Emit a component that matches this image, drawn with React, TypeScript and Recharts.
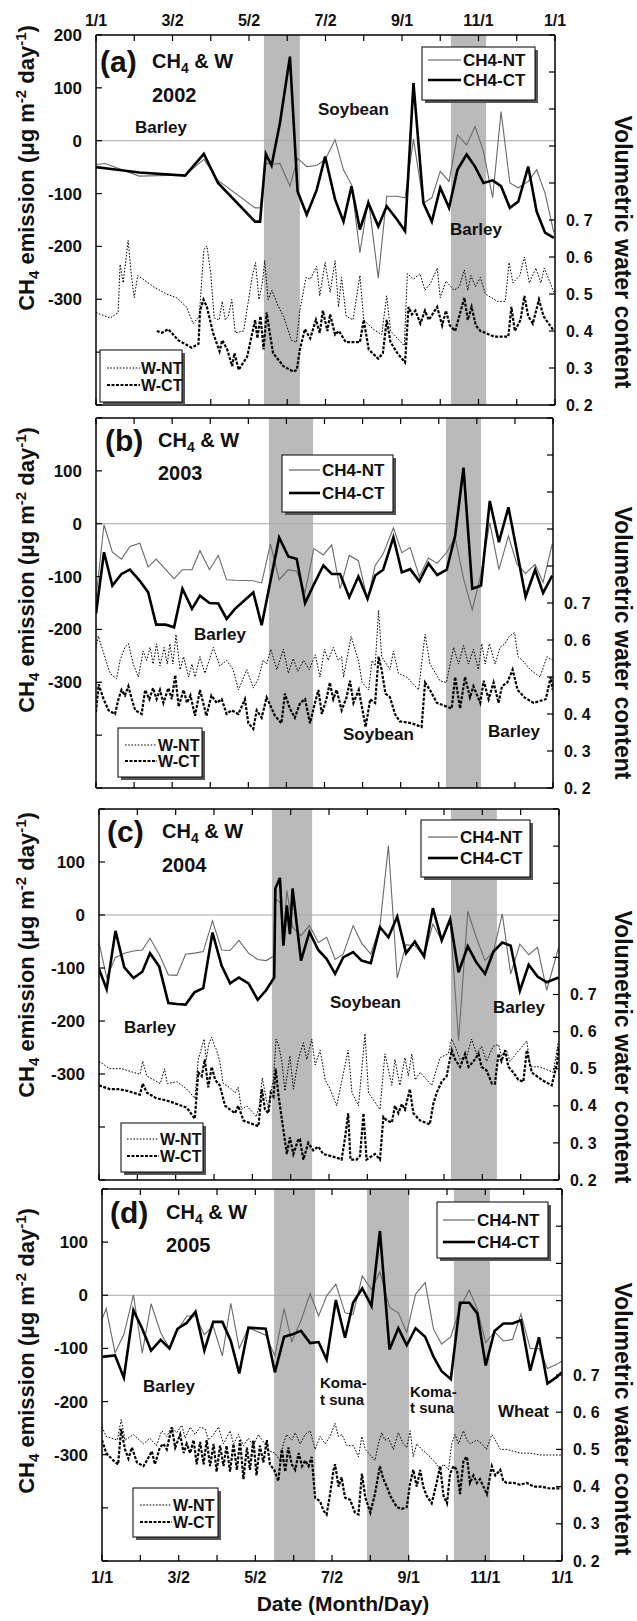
import React from 'react';
import { ComposedChart, Line, XAxis, YAxis, ReferenceArea, ReferenceLine } from 'recharts';

const FONT = '"Liberation Sans", Arial, Helvetica, sans-serif';

// ---- axis ticks ----
const xTickValues = [0, 1, 2, 3, 4, 5, 6, 7, 8, 9, 10, 11, 12];
const xTickLabels = ['1/1', '', '3/2', '', '5/2', '', '7/2', '', '9/1', '', '11/1', '', '1/1'];
const leftTicks = [-500, -400, -300, -200, -100, 0, 100, 200];
const rightTicks = [0.2, 0.3, 0.4, 0.5, 0.6, 0.7, 0.8, 0.9, 1.0, 1.1, 1.2];

// ---- 2002 (a) ----
const datesA = [0, 0.24, 1.13, 2.33, 2.82, 3.19, 4.16, 4.29, 4.44, 4.59, 4.81, 5.07, 5.27, 5.51, 5.77, 5.99, 6.25, 6.47, 6.68, 6.9, 7.12, 7.38, 7.6, 7.86, 8.08, 8.3, 8.56, 8.78, 9.0, 9.23, 9.45, 9.69, 9.91, 10.13, 10.37, 10.59, 10.82, 11.04, 11.3, 11.52, 11.74, 11.97];
const ch4CtA = [-50, -52, -60, -66, -25, -80, -153, -153, -25, -47, 34, 159, -96, -140, -93, -30, -111, -153, -86, -168, -118, -162, -124, -148, -171, 109, -118, -153, -89, -127, -55, -26, -49, -80, -75, -86, -127, -115, -49, -134, -174, -184];
const ch4NtA = [-45, -43, -67, -65, -35, -75, -127, -127, -42, -45, -43, -86, -33, -49, -47, -36, 2, -55, -83, -212, -110, -260, -105, -105, -108, 3, -118, -108, -58, -77, 11, -8, 27, -20, -108, 55, -80, -89, -77, -55, -99, -174];
const wNtA = [[0,0.45],[0.37,0.435],[0.58,0.45],[0.63,0.58],[0.71,0.53],[0.84,0.645],[0.92,0.555],[1.0,0.49],[1.09,0.55],[1.5,0.52],[1.84,0.50],[2.1,0.49],[2.37,0.465],[2.54,0.42],[2.7,0.44],[2.82,0.62],[2.9,0.63],[3.0,0.555],[3.09,0.435],[3.22,0.43],[3.3,0.48],[3.38,0.43],[3.46,0.44],[3.55,0.485],[3.64,0.395],[3.86,0.4],[4.08,0.545],[4.17,0.585],[4.26,0.485],[4.35,0.53],[4.41,0.59],[4.5,0.485],[4.6,0.51],[4.75,0.47],[4.9,0.44],[5.11,0.375],[5.24,0.37],[5.33,0.455],[5.49,0.545],[5.6,0.54],[5.77,0.575],[5.85,0.495],[5.99,0.585],[6.12,0.505],[6.25,0.59],[6.34,0.465],[6.42,0.545],[6.54,0.44],[6.72,0.43],[6.9,0.55],[7.0,0.43],[7.25,0.405],[7.47,0.39],[7.6,0.495],[7.7,0.40],[8.06,0.36],[8.14,0.555],[8.3,0.54],[8.47,0.555],[8.6,0.51],[8.75,0.53],[8.92,0.57],[9.0,0.49],[9.15,0.535],[9.36,0.51],[9.5,0.52],[9.63,0.565],[9.72,0.51],[9.8,0.55],[9.92,0.52],[10.05,0.545],[10.18,0.5],[10.5,0.48],[10.7,0.48],[10.8,0.585],[10.9,0.53],[11.08,0.55],[11.2,0.6],[11.33,0.53],[11.5,0.57],[11.63,0.53],[11.72,0.57],[11.97,0.505]];
const wCtA = [[1.59,0.40],[1.72,0.395],[1.89,0.405],[2.15,0.375],[2.5,0.355],[2.68,0.365],[2.72,0.455],[2.81,0.485],[2.9,0.465],[3.06,0.395],[3.23,0.345],[3.3,0.375],[3.43,0.35],[3.56,0.305],[3.62,0.34],[3.73,0.295],[3.95,0.33],[4.16,0.43],[4.22,0.38],[4.3,0.44],[4.38,0.35],[4.46,0.45],[4.55,0.39],[4.63,0.34],[4.9,0.305],[5.16,0.29],[5.25,0.295],[5.33,0.35],[5.46,0.405],[5.6,0.38],[5.75,0.43],[5.85,0.395],[5.93,0.455],[6.05,0.4],[6.12,0.445],[6.25,0.39],[6.35,0.4],[6.53,0.37],[6.7,0.37],[6.9,0.37],[7.0,0.43],[7.13,0.35],[7.38,0.325],[7.5,0.34],[7.6,0.43],[7.7,0.37],[7.88,0.34],[8.08,0.315],[8.17,0.465],[8.26,0.445],[8.35,0.455],[8.48,0.42],[8.6,0.455],[8.7,0.43],[8.92,0.465],[9.05,0.415],[9.15,0.455],[9.25,0.415],[9.39,0.40],[9.63,0.49],[9.72,0.43],[9.82,0.465],[9.93,0.415],[10.05,0.40],[10.18,0.395],[10.4,0.385],[10.78,0.385],[10.86,0.465],[10.95,0.40],[11.1,0.43],[11.2,0.495],[11.3,0.44],[11.42,0.42],[11.58,0.485],[11.7,0.44],[11.97,0.40]];
const shadesA = [[4.39, 5.33], [9.28, 10.2]];

// ---- 2003 (b) ----
const datesB = [0, 0.21, 0.43, 0.67, 0.89, 1.15, 1.37, 1.58, 1.83, 2.05, 2.27, 2.52, 2.73, 2.98, 3.21, 3.43, 3.65, 4.13, 4.35, 4.58, 4.81, 5.05, 5.27, 5.49, 5.72, 5.97, 6.19, 6.41, 6.65, 6.89, 7.13, 7.33, 7.54, 7.81, 8.03, 8.25, 8.49, 8.73, 8.96, 9.21, 9.43, 9.65, 9.88, 10.11, 10.34, 10.58, 10.83, 11.05, 11.28, 11.53, 11.74, 11.98];
const ch4CtB = [-170, -54, -117, -95, -87, -108, -130, -191, -191, -196, -123, -161, -136, -150, -151, -180, -161, -130, -192, -109, -26, -62, -67, -150, -115, -79, -95, -95, -139, -100, -142, -98, -87, -26, -92, -86, -109, -75, -97, -87, -23, 106, -123, -117, 43, -35, 31, -51, -138, -87, -131, -98];
const ch4NtB = [-140, -2, -54, -67, -43, -37, -82, -67, -87, -104, -87, -87, -51, -87, -60, -106, -107, -108, -112, -38, -106, -87, -90, -130, -47, -59, -40, -123, -60, -70, -144, -79, -57, -8, -55, -45, -100, -65, -75, -54, -26, -104, -163, -95, 2, -87, -23, -76, -94, -77, -111, -38];
const wNtB = [[0,0.58],[0.06,0.61],[0.37,0.51],[0.54,0.495],[0.63,0.545],[0.76,0.58],[0.85,0.59],[0.98,0.535],[1.11,0.5],[1.24,0.57],[1.33,0.545],[1.42,0.58],[1.5,0.535],[1.59,0.59],[1.68,0.53],[1.79,0.58],[1.87,0.535],[1.94,0.59],[2.02,0.535],[2.1,0.615],[2.21,0.52],[2.3,0.555],[2.43,0.5],[2.52,0.535],[2.6,0.5],[2.73,0.555],[2.86,0.51],[3.08,0.58],[3.25,0.53],[3.43,0.545],[3.6,0.52],[3.74,0.465],[3.96,0.52],[4.13,0.47],[4.26,0.495],[4.39,0.545],[4.48,0.535],[4.59,0.575],[4.75,0.52],[4.92,0.575],[5.05,0.51],[5.18,0.55],[5.3,0.515],[5.45,0.545],[5.6,0.52],[5.76,0.56],[5.88,0.50],[6.0,0.575],[6.1,0.545],[6.23,0.58],[6.36,0.545],[6.45,0.555],[6.5,0.5],[6.7,0.61],[6.8,0.575],[6.9,0.54],[6.99,0.485],[7.16,0.465],[7.25,0.545],[7.33,0.53],[7.42,0.68],[7.5,0.555],[7.72,0.52],[7.81,0.57],[7.94,0.51],[8.16,0.5],[8.47,0.465],[8.64,0.615],[8.77,0.535],[9.03,0.49],[9.2,0.485],[9.39,0.58],[9.52,0.535],[9.65,0.585],[9.78,0.535],[9.91,0.575],[10.04,0.52],[10.13,0.59],[10.22,0.535],[10.33,0.59],[10.48,0.535],[10.61,0.58],[10.74,0.59],[10.85,0.61],[10.99,0.62],[11.08,0.555],[11.2,0.545],[11.4,0.52],[11.66,0.5],[11.84,0.555],[11.99,0.545]];
const wCtB = [[0,0.405],[0.07,0.48],[0.2,0.44],[0.33,0.41],[0.5,0.40],[0.59,0.44],[0.67,0.465],[0.76,0.45],[0.85,0.475],[0.94,0.44],[1.03,0.41],[1.2,0.40],[1.29,0.465],[1.4,0.44],[1.5,0.47],[1.59,0.44],[1.68,0.465],[1.77,0.43],[1.9,0.47],[1.99,0.44],[2.08,0.505],[2.17,0.42],[2.3,0.465],[2.39,0.43],[2.48,0.45],[2.6,0.395],[2.73,0.465],[2.9,0.395],[3.03,0.45],[3.17,0.43],[3.3,0.44],[3.43,0.40],[3.56,0.41],[3.74,0.40],[3.91,0.44],[4.0,0.375],[4.13,0.36],[4.22,0.41],[4.35,0.39],[4.48,0.445],[4.59,0.42],[4.7,0.395],[4.87,0.375],[4.96,0.455],[5.09,0.415],[5.22,0.39],[5.36,0.43],[5.49,0.44],[5.62,0.375],[5.75,0.43],[5.84,0.465],[5.93,0.40],[6.05,0.44],[6.14,0.485],[6.23,0.44],[6.32,0.465],[6.45,0.41],[6.58,0.445],[6.67,0.49],[6.76,0.43],[6.9,0.465],[7.08,0.365],[7.2,0.44],[7.33,0.43],[7.42,0.555],[7.5,0.52],[7.6,0.455],[7.72,0.445],[7.85,0.40],[7.98,0.38],[8.29,0.375],[8.55,0.365],[8.64,0.485],[8.77,0.465],[8.95,0.43],[9.21,0.42],[9.34,0.415],[9.43,0.50],[9.56,0.415],[9.69,0.50],[9.82,0.445],[9.91,0.475],[10.09,0.43],[10.18,0.49],[10.31,0.44],[10.44,0.485],[10.57,0.43],[10.66,0.475],[10.8,0.485],[10.94,0.52],[11.07,0.465],[11.25,0.445],[11.49,0.43],[11.81,0.44],[11.94,0.50],[11.99,0.465]];
const shadesB = [[4.54, 5.7], [9.19, 10.11]];

// ---- 2004 (c) ----
const datesC = [0, 0.2, 0.43, 0.66, 0.9, 1.13, 1.33, 1.57, 1.81, 2.03, 2.26, 2.49, 2.72, 2.96, 3.2, 3.42, 3.65, 3.9, 4.14, 4.36, 4.57, 4.6, 4.72, 4.81, 4.9, 4.98, 5.05, 5.27, 5.49, 5.72, 5.94, 6.16, 6.37, 6.63, 6.85, 7.09, 7.33, 7.55, 7.78, 8.01, 8.24, 8.48, 8.71, 8.94, 9.16, 9.38, 9.62, 9.84, 10.07, 10.29, 10.52, 10.74, 10.98, 11.21, 11.44, 11.68, 11.99];
const ch4CtC = [-102, -140, -30, -99, -119, -107, -72, -97, -166, -168, -169, -146, -138, -33, -96, -129, -118, -129, -160, -142, -118, 50, 70, -58, 18, -36, 50, -86, -32, -66, -83, -111, -80, -70, -86, -91, -23, -42, -3, -72, -50, -78, 13, -48, -8, -108, -59, -89, -111, -69, -52, -58, -143, -94, -116, -127, -118];
const ch4NtC = [-52, -118, -80, -72, -68, -66, -44, -74, -113, -114, -74, -72, -69, -11, -66, -67, -48, -72, -84, -86, -77, 30, 24, -42, 46, 10, -23, -39, -20, -52, -42, -84, -74, -20, -53, -74, -20, 131, -119, -56, -58, -78, -17, -48, -8, -237, 7, -42, -86, -69, 2, -111, -55, -75, -61, -142, -61];
const wNtC = [[0,0.52],[0.28,0.50],[0.59,0.50],[0.9,0.49],[1.07,0.485],[1.14,0.52],[1.25,0.48],[1.6,0.46],[1.71,0.50],[1.78,0.46],[2.03,0.465],[2.29,0.445],[2.5,0.42],[2.59,0.525],[2.66,0.55],[2.74,0.58],[2.8,0.525],[2.86,0.565],[2.94,0.585],[3.0,0.565],[3.07,0.55],[3.15,0.52],[3.24,0.46],[3.4,0.45],[3.55,0.435],[3.63,0.45],[3.72,0.39],[3.85,0.40],[4.03,0.38],[4.1,0.37],[4.18,0.40],[4.26,0.475],[4.33,0.435],[4.42,0.39],[4.48,0.435],[4.55,0.47],[4.62,0.58],[4.68,0.565],[4.77,0.52],[4.85,0.44],[4.98,0.535],[5.07,0.445],[5.2,0.525],[5.33,0.57],[5.42,0.525],[5.55,0.58],[5.64,0.51],[5.77,0.55],[5.9,0.47],[6.03,0.445],[6.2,0.40],[6.5,0.55],[6.6,0.435],[6.77,0.40],[6.94,0.595],[7.03,0.435],[7.33,0.39],[7.46,0.54],[7.64,0.455],[7.72,0.525],[7.85,0.455],[7.98,0.53],[8.07,0.48],[8.16,0.54],[8.25,0.47],[8.38,0.49],[8.68,0.455],[8.81,0.50],[8.9,0.53],[9.11,0.54],[9.2,0.58],[9.29,0.56],[9.42,0.525],[9.6,0.535],[9.72,0.58],[9.85,0.54],[9.98,0.56],[10.11,0.52],[10.28,0.56],[10.42,0.565],[10.5,0.535],[10.63,0.55],[10.72,0.52],[11.16,0.575],[11.25,0.505],[11.5,0.505],[11.85,0.49],[11.98,0.57]];
const wCtC = [[0,0.455],[0.28,0.445],[0.5,0.445],[0.76,0.44],[0.9,0.435],[1.07,0.43],[1.14,0.46],[1.25,0.435],[1.5,0.42],[1.75,0.415],[2.03,0.405],[2.29,0.395],[2.5,0.365],[2.59,0.49],[2.68,0.48],[2.76,0.525],[2.85,0.45],[2.94,0.505],[3.03,0.47],[3.15,0.455],[3.29,0.40],[3.42,0.39],[3.55,0.38],[3.63,0.40],[3.77,0.36],[4.03,0.35],[4.16,0.345],[4.25,0.445],[4.33,0.39],[4.42,0.38],[4.48,0.435],[4.55,0.425],[4.61,0.50],[4.68,0.43],[4.81,0.335],[4.9,0.27],[4.98,0.315],[5.07,0.27],[5.2,0.31],[5.24,0.31],[5.33,0.255],[5.46,0.3],[5.59,0.28],[5.72,0.29],[5.85,0.27],[6.03,0.265],[6.2,0.26],[6.33,0.255],[6.42,0.315],[6.5,0.38],[6.56,0.255],[6.72,0.255],[6.81,0.265],[6.9,0.38],[6.98,0.255],[7.2,0.27],[7.33,0.255],[7.42,0.37],[7.51,0.36],[7.64,0.355],[7.72,0.40],[7.81,0.38],[7.9,0.405],[7.98,0.39],[8.11,0.445],[8.2,0.38],[8.38,0.36],[8.63,0.35],[8.72,0.405],[8.81,0.435],[8.94,0.465],[9.07,0.48],[9.2,0.55],[9.29,0.525],[9.42,0.505],[9.55,0.54],[9.64,0.505],[9.77,0.52],[9.9,0.54],[9.98,0.505],[10.11,0.495],[10.25,0.46],[10.33,0.46],[10.42,0.54],[10.5,0.52],[10.59,0.55],[10.68,0.505],[10.81,0.49],[10.94,0.47],[11.07,0.465],[11.16,0.55],[11.29,0.49],[11.55,0.47],[11.81,0.455],[11.95,0.515],[11.99,0.56]];
const shadesC = [[4.51, 5.56], [9.18, 10.38]];

// ---- 2005 (d) ----
const datesD = [0, 0.11, 0.34, 0.57, 0.82, 1.05, 1.28, 1.53, 1.76, 1.97, 2.21, 2.44, 2.67, 2.9, 3.14, 3.36, 3.58, 3.82, 4.27, 4.51, 4.75, 4.95, 5.19, 5.43, 5.65, 5.86, 6.1, 6.34, 6.55, 6.79, 7.03, 7.25, 7.5, 7.73, 7.95, 8.18, 8.43, 8.65, 8.86, 9.1, 9.34, 9.58, 9.79, 10.01, 10.24, 10.47, 10.71, 10.93, 11.17, 11.4, 11.62, 11.86, 11.99];
const ch4CtD = [-116, -115, -113, -155, -28, -63, -104, -84, -100, -63, -52, -31, -104, -50, -50, -86, -147, -61, -63, -145, -78, -74, -67, -90, -88, -121, -9, -80, -14, 13, -20, 121, -102, -62, -94, -62, -78, -116, -143, -158, -14, -14, -34, -132, -67, -53, -53, -47, -142, -79, -166, -154, -145];
const ch4NtD = [-45, -25, -108, -74, 1, -109, -16, -70, -100, -66, -39, -39, -74, -58, -114, -15, -100, -61, -75, -114, -25, -87, -48, 3, -39, -1, 21, -33, -36, 36, 11, 44, -23, -33, -70, 2, 24, -64, -92, -78, -23, 10, -26, -89, -69, -86, -83, -35, -100, -100, -138, -130, -124];
const wNtD = [[0,0.56],[0.11,0.535],[0.4,0.525],[0.5,0.58],[0.6,0.525],[0.82,0.54],[1.08,0.515],[1.25,0.53],[1.42,0.51],[1.56,0.55],[1.69,0.535],[1.82,0.56],[1.95,0.545],[2.08,0.565],[2.17,0.53],[2.3,0.56],[2.43,0.54],[2.56,0.56],[2.69,0.555],[2.78,0.525],[2.91,0.54],[3.04,0.56],[3.17,0.515],[3.34,0.55],[3.43,0.515],[3.56,0.54],[3.69,0.51],[3.82,0.53],[3.95,0.51],[4.08,0.54],[4.21,0.52],[4.38,0.495],[4.51,0.49],[4.64,0.47],[4.73,0.515],[4.82,0.54],[4.95,0.525],[5.04,0.545],[5.17,0.515],[5.3,0.54],[5.43,0.55],[5.56,0.50],[5.69,0.535],[5.82,0.515],[5.95,0.535],[6.08,0.57],[6.17,0.535],[6.26,0.54],[6.39,0.51],[6.56,0.51],[6.69,0.48],[6.78,0.535],[6.87,0.50],[7.12,0.47],[7.21,0.515],[7.3,0.545],[7.38,0.525],[7.47,0.53],[7.6,0.50],[7.73,0.545],[7.86,0.515],[7.95,0.505],[8.04,0.55],[8.12,0.48],[8.21,0.515],[8.34,0.50],[8.56,0.48],[8.73,0.46],[8.82,0.445],[8.91,0.46],[9.04,0.445],[9.12,0.515],[9.21,0.54],[9.3,0.515],[9.43,0.55],[9.52,0.525],[9.6,0.515],[9.78,0.525],[9.91,0.515],[10.03,0.50],[10.17,0.54],[10.26,0.525],[10.39,0.50],[10.56,0.50],[10.74,0.495],[10.91,0.49],[11.17,0.49],[11.43,0.485],[11.69,0.485],[11.99,0.485]];
const wCtD = [[0,0.525],[0.11,0.49],[0.3,0.47],[0.42,0.46],[0.5,0.555],[0.6,0.5],[0.69,0.475],[0.78,0.505],[0.91,0.465],[1.08,0.455],[1.17,0.47],[1.3,0.495],[1.38,0.46],[1.51,0.505],[1.6,0.515],[1.69,0.5],[1.82,0.56],[1.91,0.505],[2.04,0.54],[2.13,0.49],[2.21,0.515],[2.3,0.49],[2.39,0.525],[2.47,0.46],[2.56,0.52],[2.65,0.46],[2.73,0.525],[2.82,0.455],[2.91,0.515],[2.99,0.44],[3.08,0.51],[3.17,0.455],[3.25,0.51],[3.34,0.44],[3.43,0.515],[3.52,0.445],[3.6,0.525],[3.69,0.42],[3.78,0.505],[3.86,0.445],[3.95,0.525],[4.03,0.43],[4.12,0.51],[4.21,0.465],[4.3,0.525],[4.38,0.46],[4.49,0.445],[4.6,0.415],[4.69,0.5],[4.78,0.44],[4.86,0.505],[4.95,0.46],[5.04,0.445],[5.13,0.49],[5.22,0.455],[5.3,0.47],[5.39,0.455],[5.47,0.48],[5.56,0.37],[5.69,0.36],[5.78,0.335],[5.86,0.325],[5.95,0.38],[6.04,0.445],[6.08,0.46],[6.17,0.4],[6.25,0.425],[6.34,0.37],[6.47,0.365],[6.6,0.33],[6.69,0.325],[6.78,0.435],[6.87,0.37],[7.0,0.33],[7.12,0.38],[7.25,0.455],[7.34,0.42],[7.43,0.40],[7.52,0.375],[7.69,0.345],[7.82,0.34],[7.95,0.345],[8.04,0.41],[8.12,0.445],[8.21,0.4],[8.3,0.445],[8.38,0.40],[8.47,0.375],[8.6,0.355],[8.73,0.41],[8.82,0.455],[8.91,0.375],[9.0,0.355],[9.08,0.435],[9.17,0.455],[9.26,0.445],[9.34,0.38],[9.43,0.47],[9.52,0.48],[9.6,0.41],[9.69,0.43],[9.78,0.41],[9.86,0.42],[9.95,0.40],[10.04,0.38],[10.17,0.455],[10.26,0.43],[10.39,0.445],[10.47,0.415],[10.56,0.41],[10.74,0.41],[10.91,0.405],[11.08,0.41],[11.26,0.40],[11.43,0.40],[11.69,0.395],[11.99,0.395]];
const shadesD = [[4.49, 5.56], [6.91, 8.01], [9.18, 10.12]];

// ---- helpers ----
const zip = (dates, vals) => dates.map((m, i) => ({ m, v: vals[i] }));
const pairs = (arr) => arr.map(([m, v]) => ({ m, v }));

const AX = 40;
const XH = 22;
const MB = 16;
const TXT = '#111';

function makeXTick(pos, show) {
  return (p) => {
    const { x, y, payload } = p;
    const lab = xTickLabels[Math.round(payload.value)] || '';
    const dir = pos === 'top' ? 1 : -1;
    return (
      <g>
        <line x1={x} y1={y} x2={x} y2={y + dir * 6} stroke="#000" strokeWidth={1.2} />
        {show && lab ? (
          <text x={x} y={pos === 'top' ? y - 9 : y + 22} textAnchor="middle" fontFamily={FONT} fontWeight="bold" fontSize={16} fill={TXT}>{lab}</text>
        ) : null}
      </g>
    );
  };
}

function makeLeftTick(maxLabel) {
  return (p) => {
    const { x, y, payload } = p;
    const v = payload.value;
    const show = v <= maxLabel && v >= -300;
    return (
      <g>
        <line x1={x} y1={y} x2={x + 6} y2={y} stroke="#000" strokeWidth={1.2} />
        {show ? (
          <text x={x - 14} y={y} dy="0.35em" textAnchor="end" fontFamily={FONT} fontWeight="bold" fontSize={17} fill={TXT}>{v}</text>
        ) : null}
      </g>
    );
  };
}

function rightTick(p) {
  const { x, y, payload } = p;
  const v = payload.value;
  const show = v < 0.75;
  const s = v.toFixed(1).replace('.', '. ');
  return (
    <g>
      <line x1={x} y1={y} x2={x - 6} y2={y} stroke="#000" strokeWidth={1.2} />
      {show ? (
        <text x={x + 11} y={y} dy="0.35em" textAnchor="start" fontFamily={FONT} fontWeight="bold" fontSize={16} fill={TXT}>{s}</text>
      ) : null}
    </g>
  );
}

function Panel({ box, dates, nt, ct, wnt, wct, shades, topLabels, bottomLabels, maxLeft }) {
  const { l, r, t, b } = box;
  const height = b - t + 2 * XH + MB;
  const ntPts = zip(dates, nt);
  const ctPts = zip(dates, ct);
  const wntPts = pairs(wnt);
  const wctPts = pairs(wct);
  const axisLine = { stroke: '#000', strokeWidth: 1.5 };
  return (
    <div style={{ position: 'absolute', left: 0, top: t - XH }}>
      <ComposedChart width={637} height={height} margin={{ top: 0, bottom: MB, left: l - AX, right: 637 - r - AX }}>
        <XAxis xAxisId="t" orientation="top" type="number" dataKey="m" domain={[0, 12]} ticks={xTickValues} interval={0} height={XH} tickSize={0} tickMargin={0} axisLine={axisLine} tickLine={false} tick={makeXTick('top', topLabels)} allowDataOverflow />
        <XAxis xAxisId="b" orientation="bottom" type="number" dataKey="m" domain={[0, 12]} ticks={xTickValues} interval={0} height={XH} tickSize={0} tickMargin={0} axisLine={axisLine} tickLine={false} tick={makeXTick('bottom', bottomLabels)} allowDataOverflow />
        <YAxis yAxisId="left" orientation="left" type="number" domain={[-500, 200]} ticks={leftTicks} interval={0} width={AX} tickSize={0} tickMargin={0} axisLine={axisLine} tickLine={false} tick={makeLeftTick(maxLeft)} allowDataOverflow />
        <YAxis yAxisId="right" orientation="right" type="number" domain={[0.2, 1.2]} ticks={rightTicks} interval={0} width={AX} tickSize={0} tickMargin={0} axisLine={axisLine} tickLine={false} tick={rightTick} allowDataOverflow />
        {shades.map(([x1, x2], i) => (
          <ReferenceArea key={'s' + i} xAxisId="b" yAxisId="left" x1={x1} x2={x2} y1={-500} y2={200} fill="#bababa" fillOpacity={1} stroke="none" />
        ))}
        <ReferenceLine xAxisId="b" yAxisId="left" y={0} stroke="#a8a8a8" strokeWidth={1} />
        <Line xAxisId="b" yAxisId="right" data={wntPts} dataKey="v" type="linear" stroke="#000" strokeWidth={1} strokeDasharray="1.6 1.6" dot={false} isAnimationActive={false} />
        <Line xAxisId="b" yAxisId="right" data={wctPts} dataKey="v" type="linear" stroke="#000" strokeWidth={2.2} strokeDasharray="3 1.5" dot={false} isAnimationActive={false} />
        <Line xAxisId="b" yAxisId="left" data={ntPts} dataKey="v" type="linear" stroke="#6a6a6a" strokeWidth={1.1} dot={false} isAnimationActive={false} />
        <Line xAxisId="b" yAxisId="left" data={ctPts} dataKey="v" type="linear" stroke="#000" strokeWidth={2.6} dot={false} isAnimationActive={false} />
      </ComposedChart>
    </div>
  );
}

function Box({ x, y, w, h }) {
  return (
    <g>
      <rect x={x + 3} y={y + 3} width={w} height={h} fill="#555" />
      <rect x={x} y={y} width={w} height={h} fill="#fff" stroke="#000" strokeWidth={1} />
    </g>
  );
}

function Ch4Legend({ x, y, w, h, y1, y2, lx1, lx2, tx }) {
  return (
    <g>
      <Box x={x} y={y} w={w} h={h} />
      <line x1={lx1} y1={y1} x2={lx2} y2={y1} stroke="#555" strokeWidth={1.1} />
      <text x={tx} y={y1 + 6} fontFamily={FONT} fontWeight="bold" fontSize={17} fill={TXT}>CH4-NT</text>
      <line x1={lx1} y1={y2} x2={lx2} y2={y2} stroke="#000" strokeWidth={2.6} />
      <text x={tx} y={y2 + 6} fontFamily={FONT} fontWeight="bold" fontSize={17} fill={TXT}>CH4-CT</text>
    </g>
  );
}

function WLegend({ x, y, w, h, y1, y2, lx1, lx2, tx }) {
  return (
    <g>
      <Box x={x} y={y} w={w} h={h} />
      <line x1={lx1} y1={y1} x2={lx2} y2={y1} stroke="#000" strokeWidth={1} strokeDasharray="1.6 1.6" />
      <text x={tx} y={y1 + 6} fontFamily={FONT} fontWeight="bold" fontSize={16} fill={TXT}>W-NT</text>
      <line x1={lx1} y1={y2} x2={lx2} y2={y2} stroke="#000" strokeWidth={2.2} strokeDasharray="3 1.5" />
      <text x={tx} y={y2 + 6} fontFamily={FONT} fontWeight="bold" fontSize={16} fill={TXT}>W-CT</text>
    </g>
  );
}

function Heading({ x, y1, y2, letter, year, lx }) {
  return (
    <g fontFamily={FONT} fontWeight="bold" fill={TXT}>
      <text x={lx} y={y1 + 4} fontSize={30}>{letter}</text>
      <text x={x} y={y1} fontSize={20}>CH<tspan dy={5} fontSize={14}>4</tspan><tspan dy={-5}> &amp; W</tspan></text>
      <text x={x} y={y2} fontSize={20}>{year}</text>
    </g>
  );
}

function LeftTitle({ cy }) {
  const cx = 34;
  return (
    <text x={cx} y={cy} transform={`rotate(-90 ${cx} ${cy})`} textAnchor="middle" fontFamily={FONT} fontWeight="bold" fontSize={22} fill={TXT}>
      CH<tspan dy={5} fontSize={15}>4</tspan><tspan dy={-5}> emission (μg m</tspan><tspan dy={-8} fontSize={15}>-2</tspan><tspan dy={8}> day</tspan><tspan dy={-8} fontSize={15}>-1</tspan><tspan dy={8}>)</tspan>
    </text>
  );
}

function RightTitle({ cy }) {
  const cx = 615;
  return (
    <text x={cx} y={cy} transform={`rotate(90 ${cx} ${cy})`} textAnchor="middle" fontFamily={FONT} fontWeight="bold" fontSize={23} fill={TXT}>
      Volumetric water content
    </text>
  );
}

function Crop({ x, y, children, size = 17 }) {
  return <text x={x} y={y} fontFamily={FONT} fontWeight="bold" fontSize={size} fill={TXT}>{children}</text>;
}

export default function App() {
  return (
    <div style={{ position: 'absolute', left: 0, top: 0, width: 637, height: 1621, background: '#fff' }}>
      <Panel box={{ l: 96, r: 555, t: 35, b: 405 }} dates={datesA} nt={ch4NtA} ct={ch4CtA} wnt={wNtA} wct={wCtA} shades={shadesA} topLabels={true} bottomLabels={false} maxLeft={200} />
      <Panel box={{ l: 96, r: 553, t: 418, b: 788 }} dates={datesB} nt={ch4NtB} ct={ch4CtB} wnt={wNtB} wct={wCtB} shades={shadesB} topLabels={false} bottomLabels={false} maxLeft={100} />
      <Panel box={{ l: 99, r: 559, t: 809, b: 1180 }} dates={datesC} nt={ch4NtC} ct={ch4CtC} wnt={wNtC} wct={wCtC} shades={shadesC} topLabels={false} bottomLabels={false} maxLeft={100} />
      <Panel box={{ l: 102, r: 562, t: 1189, b: 1561 }} dates={datesD} nt={ch4NtD} ct={ch4CtD} wnt={wNtD} wct={wCtD} shades={shadesD} topLabels={false} bottomLabels={true} maxLeft={100} />
      <svg width={637} height={1621} style={{ position: 'absolute', left: 0, top: 0, pointerEvents: 'none' }}>
        <LeftTitle cy={168} />
        <LeftTitle cy={570} />
        <LeftTitle cy={955} />
        <LeftTitle cy={1351} />
        <RightTitle cy={252} />
        <RightTitle cy={643} />
        <RightTitle cy={1047} />
        <RightTitle cy={1419} />
        <text x={343} y={1611} textAnchor="middle" fontFamily={FONT} fontWeight="bold" fontSize={21} fill={TXT}>Date (Month/Day)</text>

        <Heading lx={100} x={152} y1={68} y2={102} letter="(a)" year="2002" />
        <Heading lx={105} x={158} y1={447} y2={480} letter="(b)" year="2003" />
        <Heading lx={107} x={162} y1={838} y2={872} letter="(c)" year="2004" />
        <Heading lx={110} x={166} y1={1219} y2={1252} letter="(d)" year="2005" />

        <Crop x={135} y={133}>Barley</Crop>
        <Crop x={318} y={115}>Soybean</Crop>
        <Crop x={450} y={235}>Barley</Crop>
        <Crop x={194} y={640}>Barley</Crop>
        <Crop x={343} y={740}>Soybean</Crop>
        <Crop x={488} y={737}>Barley</Crop>
        <Crop x={124} y={1033}>Barley</Crop>
        <Crop x={330} y={1008}>Soybean</Crop>
        <Crop x={493} y={1013}>Barley</Crop>
        <Crop x={143} y={1392}>Barley</Crop>
        <Crop x={320} y={1388} size={15}>Koma-</Crop>
        <Crop x={320} y={1405} size={15}>t suna</Crop>
        <Crop x={410} y={1397} size={15}>Koma-</Crop>
        <Crop x={410} y={1413} size={15}>t suna</Crop>
        <Crop x={498} y={1417}>Wheat</Crop>

        <Ch4Legend x={422} y={47} w={113} h={53} y1={60} y2={80} lx1={428} lx2={461} tx={463} />
        <Ch4Legend x={282} y={455} w={111} h={57} y1={470} y2={493} lx1={289} lx2={320} tx={322} />
        <Ch4Legend x={421} y={820} w={109} h={57} y1={837} y2={858} lx1={428} lx2={458} tx={460} />
        <Ch4Legend x={437} y={1202} w={111} h={56} y1={1220} y2={1242} lx1={443} lx2={475} tx={477} />

        <WLegend x={100} y={350} w={82} h={52} y1={368} y2={385} lx1={107} lx2={140} tx={141} />
        <WLegend x={118} y={728} w={84} h={49} y1={745} y2={761} lx1={125} lx2={157} tx={158} />
        <WLegend x={121} y={1123} w={82} h={49} y1={1139} y2={1156} lx1={127} lx2={159} tx={160} />
        <WLegend x={133} y={1488} w={85} h={49} y1={1505} y2={1522} lx1={140} lx2={172} tx={173} />
      </svg>
    </div>
  );
}
